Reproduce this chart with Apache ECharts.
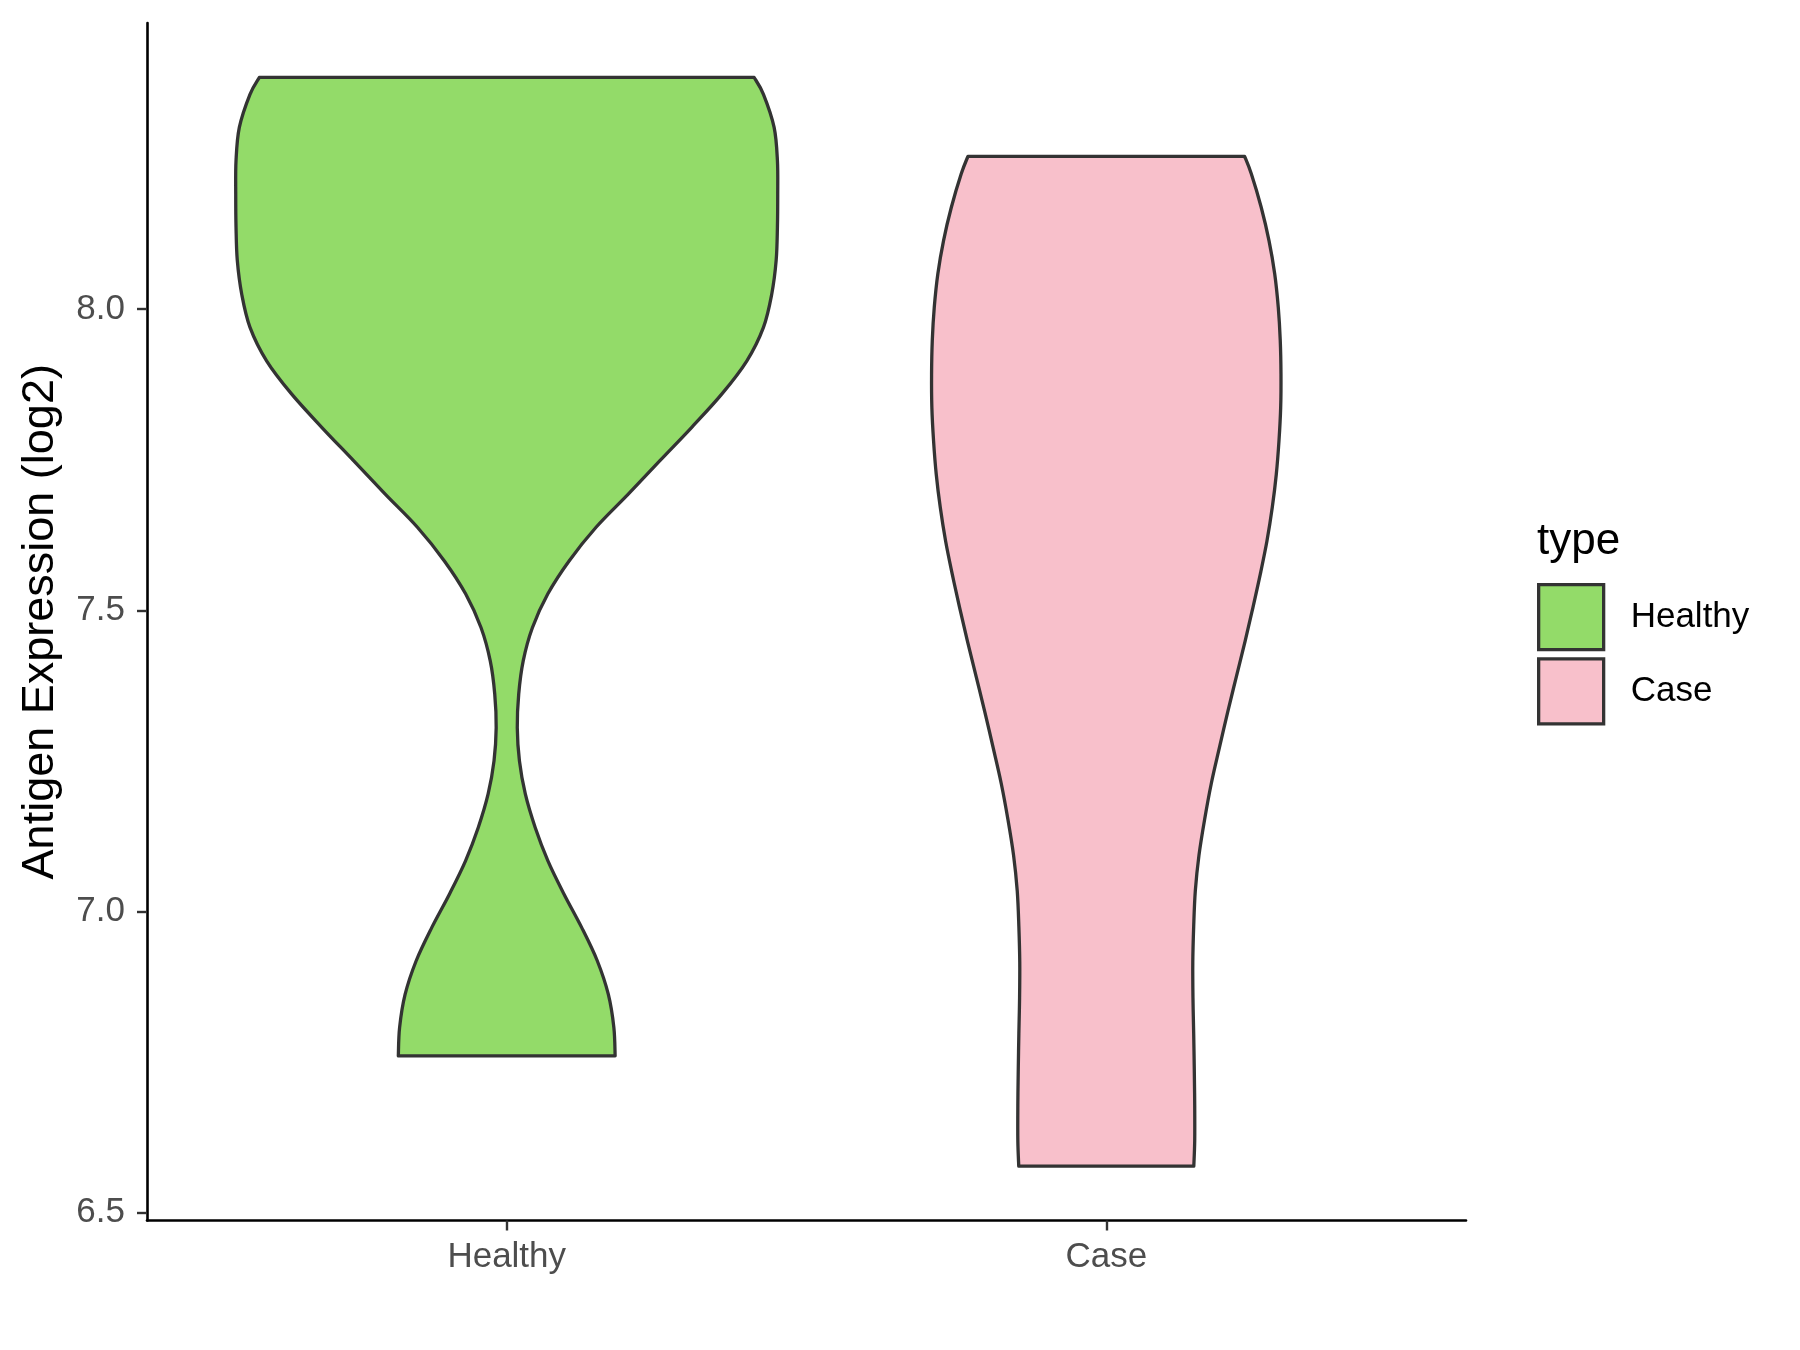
<!DOCTYPE html>
<html>
<head>
<meta charset="utf-8">
<script src="https://cdn.jsdelivr.net/npm/echarts@6/dist/echarts.min.js"></script>
<style>
html,body{margin:0;padding:0;background:#fff;}
#chart{width:1800px;height:1350px;}
</style>
</head>
<body>
<div id="chart"></div>
<script>
// ---- data ----
const categories = ['Healthy', 'Case'];
const yTicks = [6.5, 7.0, 7.5, 8.0];

// Healthy violin outline: expression value and half-width (in category units)
const healthyValues = [8.385, 8.357, 8.302, 8.247, 8.191, 8.136, 8.081, 8.025, 7.970, 7.914,
  7.859, 7.804, 7.749, 7.693, 7.638, 7.582, 7.527, 7.471, 7.416, 7.361,
  7.305, 7.250, 7.195, 7.139, 7.084, 7.029, 6.973, 6.918, 6.862, 6.807, 6.760];
const healthyHalfWidths = [0.4127, 0.4282, 0.4460, 0.4515, 0.4520, 0.4515, 0.4494, 0.4420, 0.4282, 0.4003,
  0.3586, 0.3086, 0.2559, 0.2027, 0.1490, 0.1040, 0.0684, 0.0428, 0.0275, 0.0200,
  0.0176, 0.0212, 0.0310, 0.0476, 0.0687, 0.0954, 0.1251, 0.1510, 0.1695, 0.1787, 0.1808];

// Case violin outline
const caseValues = [8.254, 8.225, 8.169, 8.114, 8.059, 8.003, 7.948, 7.892, 7.837, 7.782,
  7.726, 7.671, 7.615, 7.560, 7.505, 7.449, 7.390, 7.331, 7.271, 7.212,
  7.153, 7.093, 7.034, 6.975, 6.915, 6.856, 6.797, 6.737, 6.678, 6.619, 6.577];
const caseHalfWidths = [0.2307, 0.2419, 0.2585, 0.2714, 0.2809, 0.2869, 0.2902, 0.2914, 0.2909, 0.2881,
  0.2836, 0.2769, 0.2680, 0.2569, 0.2447, 0.2316, 0.2170, 0.2025, 0.1885, 0.1751,
  0.1641, 0.1546, 0.1485, 0.1458, 0.1443, 0.1446, 0.1458, 0.1468, 0.1475, 0.1475, 0.1460];

const fillColors = ['#93DB69', '#F8C0CB'];
const outline = '#333333';

const groups = [
  {values: healthyValues, widths: healthyHalfWidths},
  {values: caseValues, widths: caseHalfWidths}
];

// Catmull-Rom segments through pixel points (drawing only)
function splineSegs(p) {
  let d = '';
  for (let i = 0; i < p.length - 1; i++) {
    const p0 = p[Math.max(i - 1, 0)], p1 = p[i], p2 = p[i + 1], p3 = p[Math.min(i + 2, p.length - 1)];
    const c1x = p1[0] + (p2[0] - p0[0]) / 6, c1y = p1[1] + (p2[1] - p0[1]) / 6;
    const c2x = p2[0] - (p3[0] - p1[0]) / 6, c2y = p2[1] - (p3[1] - p1[1]) / 6;
    d += ' C' + c1x.toFixed(2) + ',' + c1y.toFixed(2) + ' ' + c2x.toFixed(2) + ',' + c2y.toFixed(2) + ' ' + p2[0].toFixed(2) + ',' + p2[1].toFixed(2);
  }
  return d;
}

function makeRender(g, color) {
  return function (params, api) {
    const c = api.value(0);
    const right = [], left = [];
    for (let i = 0; i < g.values.length; i++) right.push(api.coord([c + g.widths[i], g.values[i]]));
    for (let i = g.values.length - 1; i >= 0; i--) left.push(api.coord([c - g.widths[i], g.values[i]]));
    let d = 'M' + right[0][0].toFixed(2) + ',' + right[0][1].toFixed(2);
    d += splineSegs(right);
    d += ' L' + left[0][0].toFixed(2) + ',' + left[0][1].toFixed(2);
    d += splineSegs(left);
    d += ' Z';
    return {
      type: 'path',
      shape: {pathData: d},
      style: {fill: color, stroke: outline, lineWidth: 3.3, lineJoin: 'round'}
    };
  };
}

const font = 'Liberation Sans, Arial, sans-serif';
const chart = echarts.init(document.getElementById('chart'), null, {renderer: 'canvas'});
chart.setOption({
  backgroundColor: '#ffffff',
  animation: false,
  grid: {left: 147, right: 334, top: 23, bottom: 129.5, containLabel: false},
  xAxis: {
    type: 'value',
    min: 0.4, max: 2.6,
    splitLine: {show: false},
    axisLine: {show: true, onZero: false, lineStyle: {color: '#000', width: 2.6}},
    axisTick: {show: true, length: 10, customValues: [1, 2], lineStyle: {color: '#333', width: 2.4}},
    axisLabel: {
      show: true, customValues: [1, 2], margin: 19,
      formatter: function (v) { return categories[Math.round(v) - 1] || ''; },
      color: '#4d4d4d', fontSize: 35, fontFamily: font
    }
  },
  yAxis: {
    type: 'value',
    min: 6.4866, max: 8.4754,
    name: 'Antigen Expression (log2)',
    nameLocation: 'middle', nameGap: 84, nameRotate: 90,
    nameTextStyle: {color: '#000', fontSize: 45, fontFamily: font},
    splitLine: {show: false},
    axisLine: {show: true, onZero: false, lineStyle: {color: '#000', width: 2.6}},
    axisTick: {show: true, length: 10, customValues: yTicks, lineStyle: {color: '#333', width: 2.4}},
    axisLabel: {
      show: true, customValues: yTicks, margin: 22,
      formatter: function (v) { return v.toFixed(1); },
      color: '#4d4d4d', fontSize: 35, fontFamily: font
    }
  },
  legend: {
    orient: 'vertical',
    left: 1532, top: 578,
    itemWidth: 65, itemHeight: 65, itemGap: 6,
    selectedMode: false,
    icon: 'rect',
    textStyle: {color: '#000', fontSize: 35, fontFamily: font, padding: [0, 0, 0, 22]},
    data: categories.map(function (n, i) {
      return {name: n, itemStyle: {color: fillColors[i], borderColor: outline, borderWidth: 3.3}};
    })
  },
  graphic: [{
    type: 'text', left: 1537, top: 520,
    style: {text: 'type', fontSize: 44, fontFamily: font, fill: '#000'}
  }],
  series: categories.map(function (n, i) {
    return {
      type: 'custom',
      name: n,
      coordinateSystem: 'cartesian2d',
      clip: false,
      itemStyle: {color: fillColors[i], borderColor: outline, borderWidth: 3},
      renderItem: makeRender(groups[i], fillColors[i]),
      encode: {x: 0, y: 1},
      data: [[i + 1, groups[i].values[0]]]
    };
  })
});
</script>
</body>
</html>
